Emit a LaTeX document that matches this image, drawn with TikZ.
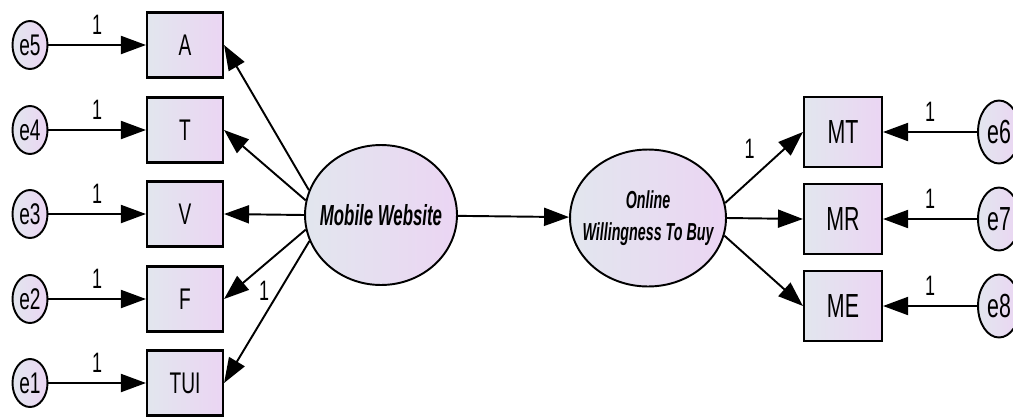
\documentclass[tikz,border=0pt]{standalone}
\usepackage{fontspec}
\setmainfont{Liberation Sans}[FakeStretch=0.64]
\newfontfamily\latentfont{Liberation Sans}[FakeStretch=0.58]
\usetikzlibrary{arrows.meta,shapes.geometric}
\definecolor{AmosGrey}{HTML}{E2E6EE}
\definecolor{AmosLilac}{HTML}{EBD5F3}

\tikzset{
  observed/.style={draw, line width=1.2pt, left color=AmosGrey, right color=AmosLilac,
    minimum width=1.52cm, minimum height=1.3cm, inner sep=0pt, font=\fontsize{17}{19}\selectfont},
  observedR/.style={observed, minimum width=1.56cm, minimum height=1.4cm, font=\fontsize{19}{21}\selectfont},
  latent/.style={ellipse, draw, line width=1.1pt, left color=AmosGrey, right color=AmosLilac,
    inner xsep=-0.4cm, inner ysep=0pt, align=center},
  errterm/.style={ellipse, draw, line width=1.1pt, left color=AmosGrey, right color=AmosLilac,
    minimum width=0.7cm, minimum height=0.96cm, inner sep=0pt, font=\fontsize{17}{19}\selectfont},
  errtermR/.style={errterm, minimum width=0.84cm, minimum height=1.26cm, font=\fontsize{19}{21}\selectfont},
  regpath/.style={-{Triangle[length=0.5cm,width=0.36cm]}, line width=1.1pt},
  weight/.style={font=\fontsize{16}{18}\selectfont}
}

\begin{document}
\begin{tikzpicture}[x=0.02cm, y=-0.02cm]
    \useasboundingbox (0,0) rectangle (1013,416);

    % latent variables
    \node[latent, minimum width=3.04cm, minimum height=2.8cm,
      font=\latentfont\fontsize{16.5}{19}\selectfont\bfseries\itshape] (mw) at (381,215) {Mobile Website};
    \node[latent, minimum width=3.12cm, minimum height=2.74cm,
      font=\latentfont\fontsize{14}{18}\selectfont\bfseries\itshape] (ow) at (648,218) {Online\\Willingness To Buy};

    % left indicators with their error terms
    \foreach \ind/\err/\y in {A/e5/45, T/e4/130, V/e3/214, F/e2/299, TUI/e1/383} {
     \node[observed] (\ind) at (185,\y) {\ind};
     \node[errterm] (\err) at (30,\y) {\err};
     \draw[regpath] (\err) -- node[weight, above=2pt] {1} (\ind);
    }
    \foreach \ang/\ind in {161/A, 169/T, 180/V, 191/F} {
     \draw[regpath] (mw.\ang) -- (\ind.east);
    }
    \draw[regpath] (mw.200) -- node[weight, pos=0.35, left=2pt] {1} (TUI.east);

    % structural path
    \draw[regpath] (mw) -- (ow);

    % right indicators with their error terms
    \foreach \ind/\err/\y in {MT/e6/132, MR/e7/219, ME/e8/306} {
     \node[observedR] (\ind) at (843,\y) {\ind};
     \node[errtermR] (\err) at (999,\y) {\err};
     \draw[regpath] (\err) -- node[weight, above=2pt] {1} (\ind);
    }
    \draw[regpath] (ow.11) -- node[weight, pos=0.45, above=3pt, xshift=-6pt] {1} (MT.west);
    \draw[regpath] (ow.0) -- (MR.west);
    \draw[regpath] (ow.-13) -- (ME.west);
\end{tikzpicture}
\end{document}
